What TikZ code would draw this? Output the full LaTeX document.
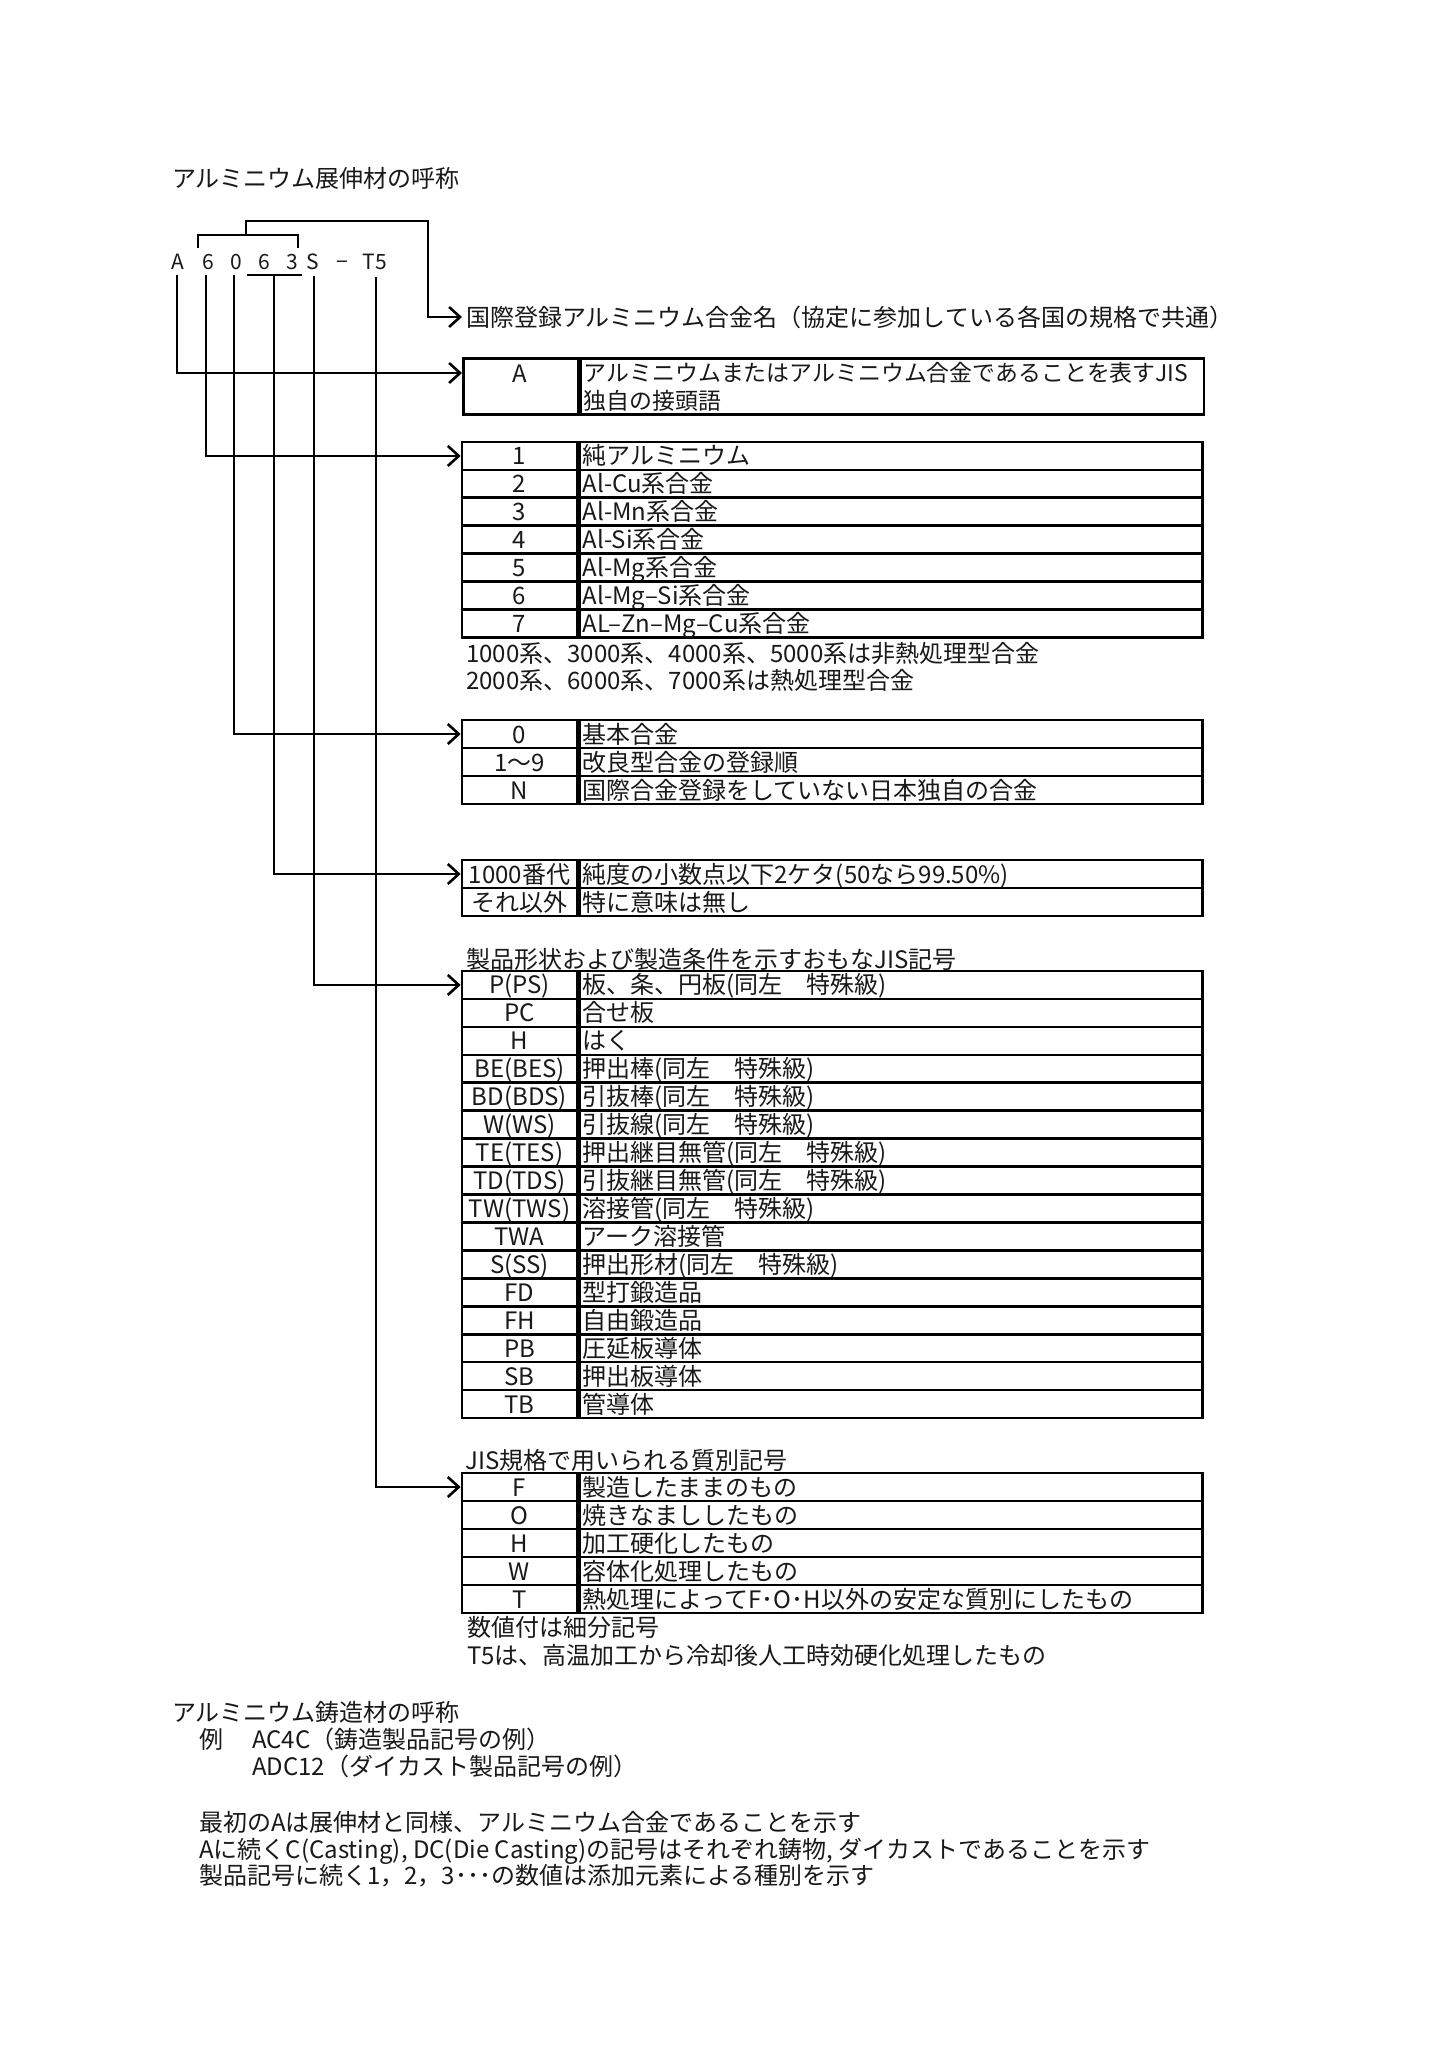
\documentclass[tikz,border=0pt]{standalone}
\usepackage{fontspec}
\setmainfont{Noto Sans CJK JP}
\usetikzlibrary{arrows.meta}
\newcommand\myjf{\fontsize{24pt}{28pt}\selectfont}
\newcommand\myjfs{\fontsize{22.9pt}{28pt}\selectfont}
\newcommand\mycf{\fontsize{21pt}{24pt}\selectfont}
\begin{document}
\begin{tikzpicture}[x=1pt,y=-1pt,
  every node/.style={inner sep=0pt, text=black!90},
  txt/.style={anchor=west, font=\myjf, text height=21pt, text depth=3pt},
  code/.style={font=\mycf, text height=15pt, text depth=0pt},
  lcell/.style={draw, line width=2.6pt, minimum width=115pt, minimum height=27.94pt, font=\myjf, text height=21pt, text depth=3pt},
  rcell/.style={draw, line width=2.6pt, minimum width=623pt, minimum height=27.94pt, text width=617pt, align=left, inner xsep=3pt, anchor=west, font=\myjf, text height=21pt, text depth=3pt},
  conn/.style={line width=2.6pt, line join=miter, -{Straight Barb[length=11pt,width=20pt]}},
  brk/.style={line width=2.6pt, line join=miter},
]
\useasboundingbox (0,0) rectangle (1450,2047);
\fill[white] (0,0) rectangle (1450,2047);

% title
\node[txt] (title) at (172,178) {アルミニウム展伸材の呼称};

% code row
\node[code] (cA) at (178,262) {A};
\node[code] (c6) at (208,262) {6};
\node[code] (c0) at (236,262) {0};
\node[code] (c6b) at (264,262) {6};
\node[code] (c3) at (292,262) {3};
\node[code] (cS) at (313,262) {S};
\node[code] (cd) at (342,262) {−};
\node[code] (cT) at (375,262) {T5};

\coordinate (pA) at (177,275);
\coordinate (p6) at (206,275);
\coordinate (p0) at (234,275);
\coordinate (p63) at (274,275);
\coordinate (pS) at (314,276);
\coordinate (pT) at (376,277);
\coordinate (bb) at (246,235);

% brackets and underline
\draw[brk] (198,248) -- (198,235) -- (298,235) -- (298,248);
\draw[brk] (247,275) -- (302,275);

% international name
\node[txt] (kok) at (466,317) {国際登録アルミニウム合金名（協定に参加している各国の規格で共通）};
\draw[conn, shorten >=4pt] (bb) |- (428,221) |- (kok.west);

% box A
\node[draw, line width=2.6pt, minimum width=115pt, minimum height=56pt, anchor=north west] (boxAl) at (462,357) {};
\node[draw, line width=2.6pt, minimum width=623pt, minimum height=56pt, text width=617pt, inner xsep=3pt, align=left, anchor=north west, font=\myjfs] (boxAr) at (boxAl.north east) {アルミニウムまたはアルミニウム合金であることを表すJIS\\独自の接頭語};
\node[font=\myjf, text height=21pt, text depth=3pt] (labA) at (519.5,373) {A};
\draw[conn] (pA) |- (labA -| boxAl.west);

% box 1-7
\foreach \a/\b [count=\i] in {1/純アルミニウム, 2/Al-Cu系合金, 3/Al-Mn系合金, 4/Al-Si系合金, 5/Al-Mg系合金, 6/Al-Mg–Si系合金, 7/AL–Zn–Mg–Cu系合金}{
  \node[lcell] (s\i) at (519.5,{442+(\i-0.5)*27.9}) {\a};
  \node[rcell] (sr\i) at (s\i.east) {\b};
}
\node[txt] (n1) at (466,653) {1000系、3000系、4000系、5000系は非熱処理型合金};
\node[txt] (n2) at (466,680) {2000系、6000系、7000系は熱処理型合金};
\draw[conn] (p6) |- (s1.west);

% box 0
\foreach \a/\b [count=\i] in {0/基本合金, 1〜9/改良型合金の登録順, N/国際合金登録をしていない日本独自の合金}{
  \node[lcell] (z\i) at (519.5,{720+(\i-0.5)*28}) {\a};
  \node[rcell] (zr\i) at (z\i.east) {\b};
}
\draw[conn] (p0) |- (z1.west);

% box 1000
\foreach \a/\b [count=\i] in {1000番代/純度の小数点以下2ケタ(50なら99.50\%), それ以外/特に意味は無し}{
  \node[lcell] (k\i) at (519.5,{860+(\i-0.5)*28}) {\a};
  \node[rcell] (kr\i) at (k\i.east) {\b};
}
\draw[conn] (p63) |- (k1.west);

% product shapes
\node[txt] (h1) at (466,959) {製品形状および製造条件を示すおもなJIS記号};
\foreach \a/\b [count=\i] in {P(PS)/板、条、円板(同左　特殊級), PC/合せ板, H/はく, BE(BES)/押出棒(同左　特殊級), BD(BDS)/引抜棒(同左　特殊級), W(WS)/引抜線(同左　特殊級), TE(TES)/押出継目無管(同左　特殊級), TD(TDS)/引抜継目無管(同左　特殊級), TW(TWS)/溶接管(同左　特殊級), TWA/アーク溶接管, S(SS)/押出形材(同左　特殊級), FD/型打鍛造品, FH/自由鍛造品, PB/圧延板導体, SB/押出板導体, TB/管導体}{
  \node[lcell] (P\i) at (519.5,{971+(\i-0.5)*27.94}) {\a};
  \node[rcell] (Pr\i) at (P\i.east) {\b};
}
\draw[conn] (pS) |- (P1.west);

% temper
\node[txt] (h2) at (465,1460) {JIS規格で用いられる質別記号};
\foreach \a/\b [count=\i] in {F/製造したままのもの, O/焼きなまししたもの, H/加工硬化したもの, W/容体化処理したもの, T/熱処理によってF･O･H以外の安定な質別にしたもの}{
  \node[lcell] (F\i) at (519.5,{1473+(\i-0.5)*28}) {\a};
  \node[rcell] (Fr\i) at (F\i.east) {\b};
}
\draw[conn] (pT) |- (F1.west);
\node[txt] (n3) at (467,1627) {数値付は細分記号};
\node[txt] (n4) at (467,1655) {T5は、高温加工から冷却後人工時効硬化処理したもの};

% casting
\node[txt] (t2) at (172,1712) {アルミニウム鋳造材の呼称};
\node[txt] (ex) at (199,1739) {例};
\node[txt] (ex1) at (252,1739) {AC4C（鋳造製品記号の例）};
\node[txt] (ex2) at (252,1766) {ADC12（ダイカスト製品記号の例）};
\node[txt] (d1) at (199,1822) {最初のAは展伸材と同様、アルミニウム合金であることを示す};
\node[txt] (d2) at (199,1849) {Aに続くC(Casting), DC(Die Casting)の記号はそれぞれ鋳物, ダイカストであることを示す};
\node[txt] (d3) at (199,1875) {製品記号に続く1，2，3･･･の数値は添加元素による種別を示す};
\end{tikzpicture}
\end{document}
